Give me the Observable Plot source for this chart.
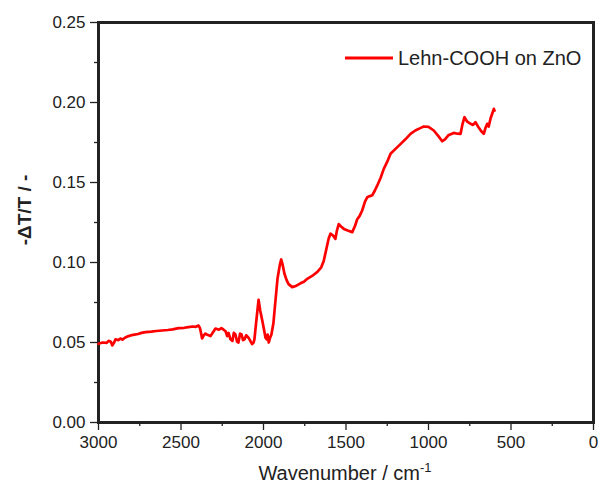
<!DOCTYPE html>
<html>
<head>
<meta charset="utf-8">
<script src="https://cdn.jsdelivr.net/npm/d3@7"></script>
<script src="https://cdn.jsdelivr.net/npm/@observablehq/plot@0.6"></script>
<style>
  body { margin: 0; background: #fff; }
</style>
</head>
<body>
<div id="chart"></div>
<script>
// FTIR difference spectrum: wavenumber (cm^-1) and -ΔT/T
const wavenumber = [
  3000, 2975, 2950, 2939, 2925, 2917, 2905, 2897, 2880, 2865, 2855, 2840, 2818, 2790, 2760, 2740,
  2715, 2680, 2650, 2614, 2580, 2550, 2515, 2480, 2455, 2430, 2410, 2394, 2385, 2372, 2362, 2352,
  2340, 2321, 2305, 2291, 2270, 2255, 2242, 2230, 2220, 2212, 2200, 2188, 2180, 2170, 2160, 2152,
  2142, 2133, 2124, 2115, 2105, 2091, 2080, 2069, 2060, 2055, 2042, 2030, 2020, 2006, 1995, 1988,
  1980, 1975, 1968, 1960, 1952, 1940, 1933, 1915, 1900, 1893, 1885, 1873, 1860, 1848, 1826, 1800,
  1776, 1755, 1735, 1700, 1675, 1650, 1635, 1620, 1605, 1594, 1580, 1564, 1555, 1544, 1530, 1513,
  1490, 1462, 1445, 1432, 1418, 1402, 1385, 1371, 1355, 1341, 1325, 1311, 1290, 1271, 1250, 1230,
  1200, 1170, 1140, 1109, 1080, 1050, 1029, 1000, 968, 940, 917, 900, 880, 847, 825, 806,
  795, 782, 765, 745, 730, 715, 700, 680, 665, 655, 644, 635, 624, 614, 604, 600
];
const deltaT = [
  0.0492, 0.0500, 0.0498, 0.0510, 0.0505, 0.0482, 0.0500, 0.0520, 0.0515, 0.0525, 0.0518, 0.0530, 0.0540, 0.0548, 0.0553, 0.0560,
  0.0565, 0.0568, 0.0572, 0.0575, 0.0578, 0.0582, 0.0590, 0.0592, 0.0596, 0.0600, 0.0598, 0.0606, 0.0590, 0.0525, 0.0545, 0.0556,
  0.0548, 0.0540, 0.0565, 0.0587, 0.0580, 0.0590, 0.0580, 0.0570, 0.0540, 0.0560, 0.0520, 0.0510, 0.0560, 0.0550, 0.0505, 0.0500,
  0.0555, 0.0550, 0.0515, 0.0520, 0.0545, 0.0530, 0.0510, 0.0490, 0.0500, 0.0520, 0.0650, 0.0767, 0.0700, 0.0630, 0.0570, 0.0530,
  0.0520, 0.0550, 0.0500, 0.0530, 0.0550, 0.0620, 0.0700, 0.0900, 0.0990, 0.1019, 0.0990, 0.0930, 0.0890, 0.0865, 0.0846, 0.0855,
  0.0870, 0.0880, 0.0898, 0.0920, 0.0940, 0.0970, 0.1010, 0.1080, 0.1150, 0.1180, 0.1170, 0.1148, 0.1200, 0.1240, 0.1225, 0.1210,
  0.1200, 0.1190, 0.1230, 0.1270, 0.1290, 0.1325, 0.1380, 0.1408, 0.1415, 0.1420, 0.1450, 0.1480, 0.1530, 0.1585, 0.1630, 0.1680,
  0.1710, 0.1740, 0.1770, 0.1804, 0.1825, 0.1840, 0.1850, 0.1848, 0.1825, 0.1790, 0.1758, 0.1770, 0.1795, 0.1810, 0.1805, 0.1804,
  0.1860, 0.1908, 0.1880, 0.1867, 0.1860, 0.1877, 0.1850, 0.1820, 0.1804, 0.1840, 0.1867, 0.1850, 0.1900, 0.1930, 0.1960, 0.1950
];

const xTicks = [3000, 2500, 2000, 1500, 1000, 500, 0];
const xMinorTicks = [2750, 2250, 1750, 1250, 750, 250];
const yTicks = [0, 0.05, 0.10, 0.15, 0.20, 0.25];
const yMinorTicks = [0.025, 0.075, 0.125, 0.175, 0.225];
const xDomain = [0, 3000];
const yDomain = [0, 0.25];
const seriesName = "Lehn-COOH on ZnO";
const seriesColor = "#ff0000";
const ink = "#222";

const spectrum = wavenumber.map((w, i) => ({ w, v: deltaT[i] }));

const chart = Plot.plot({
  width: 599,
  height: 487,
  marginLeft: 98,
  marginRight: 6,
  marginTop: 22,
  marginBottom: 65,
  style: { fontFamily: "'Liberation Sans', Arial, sans-serif", fontSize: "17px", color: ink, background: "#fff" },
  x: { domain: xDomain, reverse: true },
  y: { domain: yDomain },
  marks: [
    // box around the plotting area
    Plot.frame({ stroke: ink, strokeWidth: 3 }),
    Plot.axisX({ ticks: xTicks, tickSize: 8, tickPadding: 5, tickFormat: d3.format("d"), label: null, fontSize: 17, strokeWidth: 1.3 }),
    Plot.axisX({ ticks: xMinorTicks, tickSize: 4, tickFormat: () => "", label: null, strokeWidth: 1.3 }),
    Plot.axisY({ ticks: yTicks, tickSize: 8, tickPadding: 5, tickFormat: d3.format(".2f"), label: null, fontSize: 17, strokeWidth: 1.3 }),
    Plot.axisY({ ticks: yMinorTicks, tickSize: 4, tickFormat: () => "", label: null, strokeWidth: 1.3 }),
    Plot.line(spectrum, { x: "w", y: "v", stroke: seriesColor, strokeWidth: 2.7 })
  ]
});

const svg = d3.select(chart);

// y-axis title
svg.append("text")
  .attr("transform", "translate(31,210) rotate(-90)")
  .attr("text-anchor", "middle")
  .attr("font-weight", "bold")
  .attr("font-size", 19)
  .attr("fill", ink)
  .text("-ΔT/T / -");

// x-axis title with superscript
const xt = svg.append("text")
  .attr("x", 345)
  .attr("y", 480)
  .attr("text-anchor", "middle")
  .attr("font-size", 20)
  .attr("fill", ink);
xt.append("tspan").text("Wavenumber / cm");
xt.append("tspan").attr("font-size", 13).attr("dy", -8).text("-1");

// legend
const lg = svg.append("g");
lg.append("line")
  .attr("x1", 345).attr("x2", 393).attr("y1", 58).attr("y2", 58)
  .attr("stroke", seriesColor).attr("stroke-width", 3);
lg.append("text")
  .attr("x", 398).attr("y", 58).attr("dy", "0.35em")
  .attr("text-anchor", "start")
  .attr("font-size", 20).attr("fill", ink)
  .text(seriesName);

document.getElementById("chart").appendChild(chart);
</script>
</body>
</html>
